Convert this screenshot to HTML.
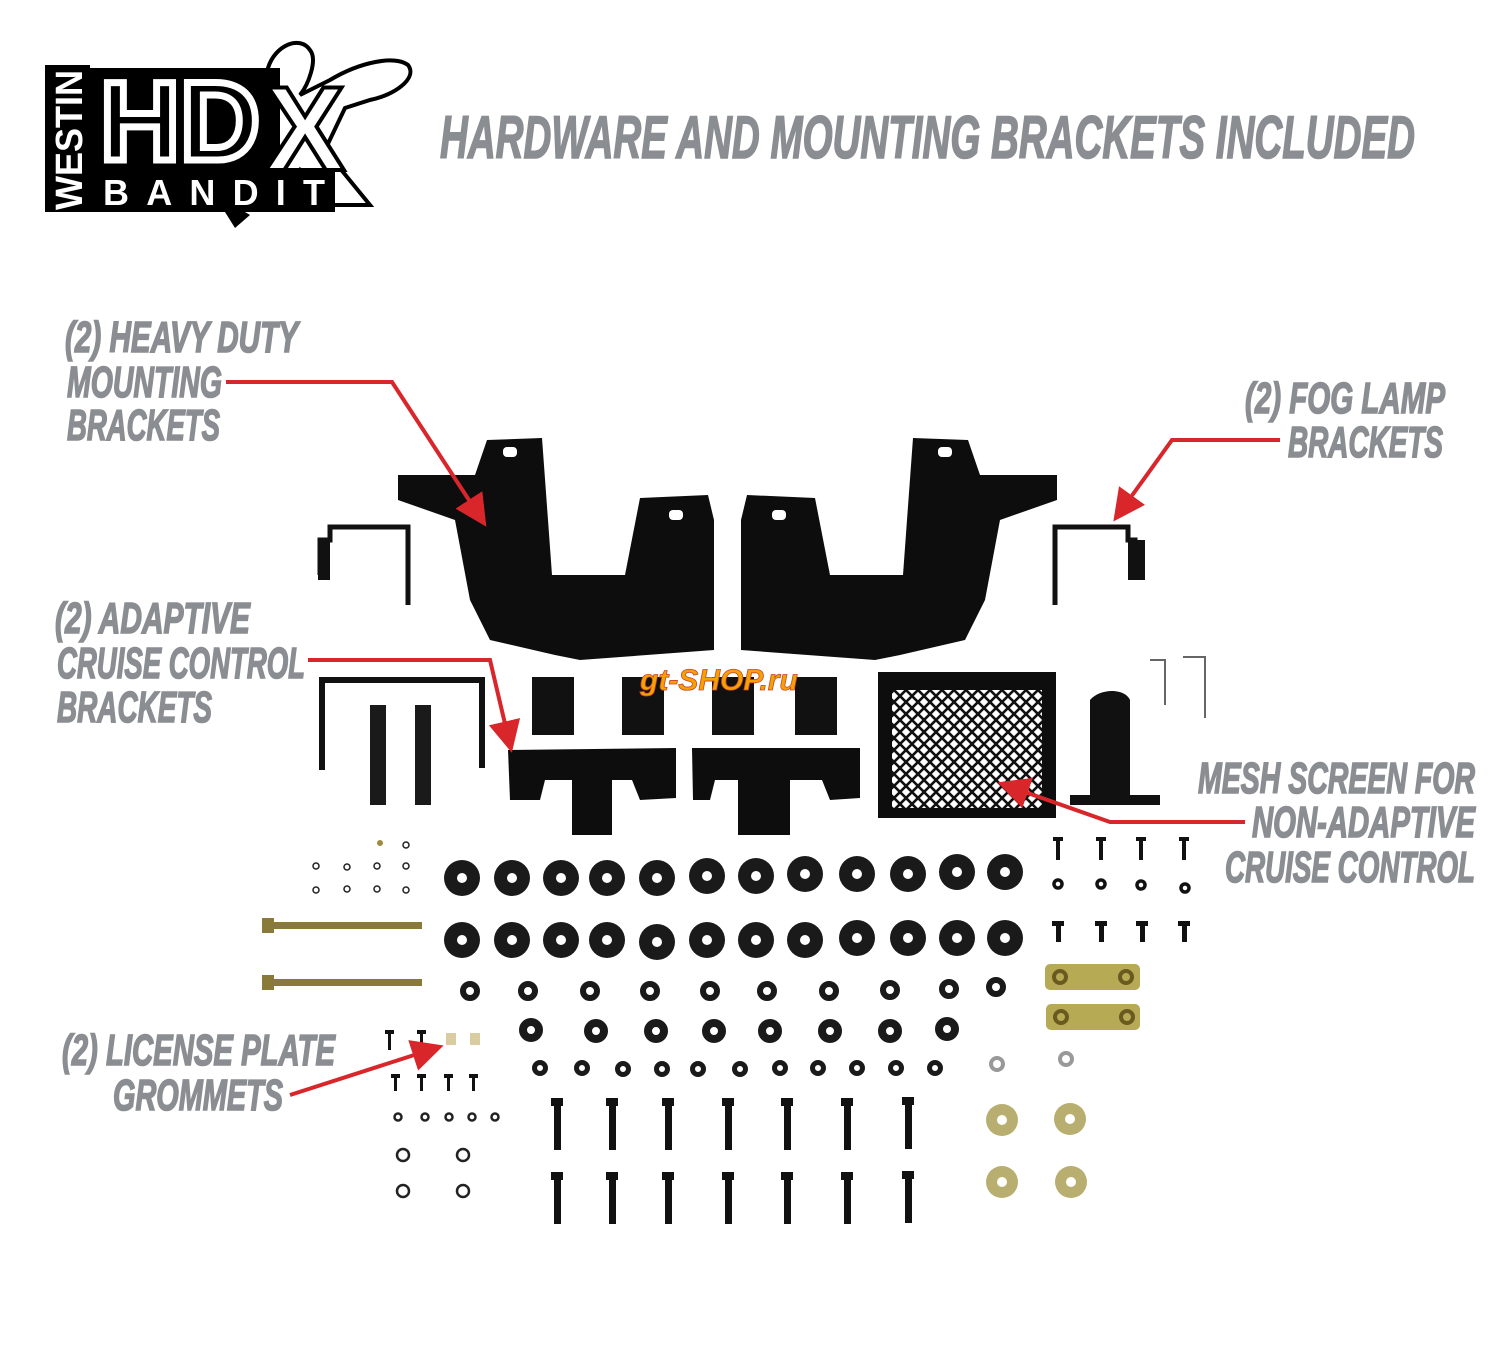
<!DOCTYPE html>
<html><head><meta charset="utf-8"><style>
html,body{margin:0;padding:0;background:#fff;}
svg{display:block;}
.lb{font-family:"Liberation Sans Narrow","Liberation Sans",sans-serif;font-weight:bold;font-style:italic;fill:#8a8d91;stroke:#8a8d91;stroke-width:1.6;}
</style></head><body>
<svg width="1500" height="1350" viewBox="0 0 1500 1350" xmlns="http://www.w3.org/2000/svg">
<defs>
<marker id="ah" markerWidth="8" markerHeight="8" refX="6" refY="4" orient="auto" markerUnits="strokeWidth">
<path d="M0,0 L8,4 L0,8 Z" fill="#d8262b"/></marker>
<pattern id="mesh" width="12" height="12" patternUnits="userSpaceOnUse">
<rect width="12" height="12" fill="#fff"/>
<path d="M0,0 L12,12 M12,0 L0,12" stroke="#111" stroke-width="2.6"/></pattern>
</defs>

<!-- Logo -->
<path d="M268,68 C275,45 300,35 310,50 C318,60 308,85 300,95 L330,80 C360,62 395,55 408,65 C418,78 395,95 370,100 L345,108 L325,150 L370,205 L330,205 L300,170 L275,205 L230,205 L268,140 Z" fill="#fff" stroke="#000" stroke-width="4"/>
<rect x="45" y="65" width="45" height="147" fill="#000"/>
<rect x="90" y="68" width="190" height="106" fill="#000"/>
<rect x="90" y="168" width="245" height="44" fill="#000"/>
<text transform="translate(82,210) rotate(-90)" font-family="Liberation Sans" font-weight="bold" font-size="38" fill="#fff" textLength="140" lengthAdjust="spacingAndGlyphs">WESTIN</text>
<text x="100" y="160" font-family="Liberation Sans" font-weight="bold" font-size="112" fill="#000" stroke="#fff" stroke-width="7" textLength="160" lengthAdjust="spacingAndGlyphs">HD</text>
<text x="103" y="205" font-family="Liberation Sans" font-weight="bold" font-size="36" fill="#fff" textLength="222" lengthAdjust="spacing">BANDIT</text>
<text x="265" y="170" font-family="Liberation Sans" font-weight="bold" font-size="120" fill="#fff" stroke="#000" stroke-width="4">X</text>
<path d="M225,212 L235,228 L250,215 L245,212 Z" fill="#000"/>

<!-- Title -->
<text class="lb" x="440" y="158" font-size="60" textLength="975" lengthAdjust="spacingAndGlyphs" stroke-width="2">HARDWARE AND MOUNTING BRACKETS INCLUDED</text>

<!-- Labels -->
<g class="lb" font-size="44">
<text x="65" y="352" textLength="233" lengthAdjust="spacingAndGlyphs">(2) HEAVY DUTY</text>
<text x="67" y="397" textLength="155" lengthAdjust="spacingAndGlyphs">MOUNTING</text>
<text x="67" y="440" textLength="153" lengthAdjust="spacingAndGlyphs">BRACKETS</text>
<text x="1245" y="413" textLength="200" lengthAdjust="spacingAndGlyphs">(2) FOG LAMP</text>
<text x="1288" y="457" textLength="155" lengthAdjust="spacingAndGlyphs">BRACKETS</text>
<text x="55" y="633" textLength="195" lengthAdjust="spacingAndGlyphs">(2) ADAPTIVE</text>
<text x="57" y="678" textLength="248" lengthAdjust="spacingAndGlyphs">CRUISE CONTROL</text>
<text x="57" y="722" textLength="155" lengthAdjust="spacingAndGlyphs">BRACKETS</text>
<text x="1198" y="793" textLength="277" lengthAdjust="spacingAndGlyphs">MESH SCREEN FOR</text>
<text x="1252" y="837" textLength="223" lengthAdjust="spacingAndGlyphs">NON-ADAPTIVE</text>
<text x="1225" y="882" textLength="250" lengthAdjust="spacingAndGlyphs">CRUISE CONTROL</text>
<text x="62" y="1065" textLength="273" lengthAdjust="spacingAndGlyphs">(2) LICENSE PLATE</text>
<text x="113" y="1110" textLength="170" lengthAdjust="spacingAndGlyphs">GROMMETS</text>
</g>

<!-- Heavy duty brackets -->
<g fill="#0d0d0d">
<path d="M398,475 L475,475 L487,440 L542,438 L548,520 L552,575 L625,575 L640,498 L708,495 L714,520 L714,650 L580,660 L555,655 L490,640 L470,600 L455,520 L398,500 Z"/>
<path transform="translate(1455,0) scale(-1,1)" d="M398,475 L475,475 L487,440 L542,438 L548,520 L552,575 L625,575 L640,498 L708,495 L714,520 L714,650 L580,660 L555,655 L490,640 L470,600 L455,520 L398,500 Z"/>
</g>
<g fill="#fff">
<rect x="503" y="447" width="14" height="10" rx="4"/><rect x="669" y="510" width="14" height="10" rx="4"/>
<rect x="938" y="447" width="14" height="10" rx="4"/><rect x="772" y="510" width="14" height="10" rx="4"/>
</g>
<!-- Fog brackets -->
<g fill="none" stroke="#111" stroke-width="5">
<path d="M320,575 L320,540 L330,540 L330,527 L408,527 L408,605"/>
<path d="M1135,575 L1135,540 L1128,540 L1128,527 L1055,527 L1055,605"/>
</g>
<path d="M318,540 L330,540 L330,580 L318,580Z M1128,540 L1145,540 L1145,580 L1128,580Z" fill="#111"/>

<!-- ACC left parts -->
<g fill="none" stroke="#111" stroke-width="6">
<path d="M322,770 L322,680 L482,680 L482,768"/>
</g>
<rect x="370" y="705" width="16" height="100" fill="#1a1a1a"/>
<rect x="415" y="705" width="16" height="100" fill="#1a1a1a"/>
<!-- small tabs -->
<g fill="#111">
<rect x="532" y="677" width="42" height="58"/><rect x="622" y="677" width="42" height="58"/>
<rect x="712" y="677" width="42" height="58"/><rect x="795" y="677" width="42" height="58"/>
</g>
<!-- ACC brackets -->
<g fill="#0d0d0d">
<path d="M508,750 L676,748 L676,798 L640,800 L632,780 L612,780 L612,835 L572,835 L572,780 L545,780 L540,800 L510,800 Z"/>
<path d="M692,748 L860,748 L860,798 L830,800 L822,780 L790,780 L790,835 L738,835 L738,780 L715,780 L710,800 L693,800 Z"/>
</g>
<!-- Mesh -->
<rect x="878" y="672" width="178" height="146" fill="#0d0d0d"/>
<rect x="892" y="690" width="150" height="118" fill="url(#mesh)"/>
<!-- angle bracket + allen keys -->
<path d="M1090,700 L1090,795 L1070,795 L1070,805 L1160,805 L1160,795 L1130,795 L1130,700 C1125,688 1100,688 1090,700Z" fill="#111"/>
<path d="M1150,660 L1165,660 L1165,705 M1183,657 L1205,657 L1205,718" fill="none" stroke="#666" stroke-width="2"/>

<!-- Watermark -->
<text x="640" y="690" font-family="Liberation Sans" font-weight="bold" font-style="italic" font-size="30" fill="#f5a100" stroke="#c43" stroke-width="0.8">gt-SHOP.ru</text>

<!-- Washers rows -->
<g fill="#1a1a1a">
<circle cx="462" cy="878" r="18"/><circle cx="512" cy="878" r="18"/><circle cx="561" cy="878" r="18"/><circle cx="607" cy="878" r="18"/><circle cx="657" cy="878" r="18"/><circle cx="707" cy="876" r="18"/><circle cx="756" cy="876" r="18"/><circle cx="805" cy="874" r="18"/><circle cx="857" cy="874" r="18"/><circle cx="908" cy="874" r="18"/><circle cx="957" cy="872" r="18"/><circle cx="1005" cy="872" r="18"/>
<circle cx="462" cy="940" r="18"/><circle cx="512" cy="940" r="18"/><circle cx="561" cy="940" r="18"/><circle cx="607" cy="940" r="18"/><circle cx="657" cy="942" r="18"/><circle cx="707" cy="940" r="18"/><circle cx="756" cy="940" r="18"/><circle cx="805" cy="940" r="18"/><circle cx="857" cy="938" r="18"/><circle cx="908" cy="938" r="18"/><circle cx="957" cy="938" r="18"/><circle cx="1005" cy="938" r="18"/>
</g>
<g fill="#fff">
<circle cx="462" cy="878" r="5"/><circle cx="512" cy="878" r="5"/><circle cx="561" cy="878" r="5"/><circle cx="607" cy="878" r="5"/><circle cx="657" cy="878" r="5"/><circle cx="707" cy="876" r="5"/><circle cx="756" cy="876" r="5"/><circle cx="805" cy="874" r="5"/><circle cx="857" cy="874" r="5"/><circle cx="908" cy="874" r="5"/><circle cx="957" cy="872" r="5"/><circle cx="1005" cy="872" r="5"/>
<circle cx="462" cy="940" r="5"/><circle cx="512" cy="940" r="5"/><circle cx="561" cy="940" r="5"/><circle cx="607" cy="940" r="5"/><circle cx="657" cy="942" r="5"/><circle cx="707" cy="940" r="5"/><circle cx="756" cy="940" r="5"/><circle cx="805" cy="940" r="5"/><circle cx="857" cy="938" r="5"/><circle cx="908" cy="938" r="5"/><circle cx="957" cy="938" r="5"/><circle cx="1005" cy="938" r="5"/>
</g>
<!-- nuts row -->
<g fill="none" stroke="#1a1a1a" stroke-width="6">
<circle cx="470" cy="991" r="7"/><circle cx="528" cy="991" r="7"/><circle cx="590" cy="991" r="7"/><circle cx="650" cy="991" r="7"/><circle cx="710" cy="991" r="7"/><circle cx="767" cy="991" r="7"/><circle cx="829" cy="991" r="7"/><circle cx="890" cy="990" r="7"/><circle cx="949" cy="989" r="7"/><circle cx="996" cy="987" r="7"/>
</g>
<g fill="none" stroke="#1a1a1a" stroke-width="8">
<circle cx="531" cy="1030" r="8"/><circle cx="596" cy="1031" r="8"/><circle cx="656" cy="1031" r="8"/><circle cx="714" cy="1031" r="8"/><circle cx="770" cy="1031" r="8"/><circle cx="830" cy="1031" r="8"/><circle cx="890" cy="1031" r="8"/><circle cx="947" cy="1029" r="8"/>
</g>
<g fill="none" stroke="#1a1a1a" stroke-width="5">
<circle cx="540" cy="1068" r="5.5"/><circle cx="582" cy="1068" r="5.5"/><circle cx="623" cy="1069" r="5.5"/><circle cx="662" cy="1069" r="5.5"/><circle cx="698" cy="1069" r="5.5"/><circle cx="740" cy="1069" r="5.5"/><circle cx="780" cy="1068" r="5.5"/><circle cx="818" cy="1068" r="5.5"/><circle cx="857" cy="1068" r="5.5"/><circle cx="896" cy="1068" r="5.5"/><circle cx="935" cy="1068" r="5.5"/>
</g>
<!-- big bolts -->
<g fill="#111">
<rect x="551" y="1098" width="12" height="8"/><rect x="554" y="1104" width="7" height="46"/>
<rect x="606" y="1098" width="12" height="8"/><rect x="609" y="1104" width="7" height="46"/>
<rect x="662" y="1098" width="12" height="8"/><rect x="665" y="1104" width="7" height="46"/>
<rect x="722" y="1098" width="12" height="8"/><rect x="725" y="1104" width="7" height="46"/>
<rect x="781" y="1098" width="12" height="8"/><rect x="784" y="1104" width="7" height="46"/>
<rect x="841" y="1098" width="12" height="8"/><rect x="844" y="1104" width="7" height="46"/>
<rect x="902" y="1097" width="12" height="8"/><rect x="905" y="1103" width="7" height="46"/>
<rect x="551" y="1172" width="12" height="8"/><rect x="554" y="1178" width="7" height="46"/>
<rect x="606" y="1172" width="12" height="8"/><rect x="609" y="1178" width="7" height="46"/>
<rect x="662" y="1172" width="12" height="8"/><rect x="665" y="1178" width="7" height="46"/>
<rect x="722" y="1172" width="12" height="8"/><rect x="725" y="1178" width="7" height="46"/>
<rect x="781" y="1172" width="12" height="8"/><rect x="784" y="1178" width="7" height="46"/>
<rect x="841" y="1172" width="12" height="8"/><rect x="844" y="1178" width="7" height="46"/>
<rect x="902" y="1171" width="12" height="8"/><rect x="905" y="1177" width="7" height="46"/>
</g>
<!-- left small hardware -->
<circle cx="380" cy="843" r="3" fill="#a08a40"/>
<g fill="none" stroke="#222" stroke-width="1.5">
<circle cx="406" cy="845" r="3"/><circle cx="316" cy="866" r="3"/><circle cx="347" cy="867" r="3"/><circle cx="377" cy="866" r="3"/><circle cx="406" cy="866" r="3"/>
<circle cx="316" cy="890" r="3"/><circle cx="347" cy="889" r="3"/><circle cx="377" cy="889" r="3"/><circle cx="406" cy="890" r="3"/>
</g>
<g fill="none" stroke="#222" stroke-width="2.5">
<circle cx="398" cy="1117" r="3.5"/><circle cx="425" cy="1117" r="3.5"/><circle cx="449" cy="1117" r="3.5"/><circle cx="472" cy="1117" r="3.5"/><circle cx="495" cy="1117" r="3.5"/>
<circle cx="403" cy="1155" r="6"/><circle cx="463" cy="1155" r="6"/><circle cx="403" cy="1191" r="6"/><circle cx="463" cy="1191" r="6"/>
</g>
<!-- long bolts -->
<rect x="262" y="922" width="160" height="7" fill="#8a7a3a"/><rect x="262" y="918" width="12" height="15" fill="#8a7a3a"/>
<rect x="262" y="979" width="160" height="7" fill="#8a7a3a"/><rect x="262" y="975" width="12" height="15" fill="#8a7a3a"/>
<!-- small screws -->
<g fill="#111">
<rect x="388" y="1030" width="3" height="20"/><rect x="385" y="1030" width="9" height="4"/>
<rect x="420" y="1030" width="3" height="20"/><rect x="417" y="1030" width="9" height="4"/>
<rect x="394" y="1075" width="3" height="16"/><rect x="391" y="1074" width="9" height="4"/>
<rect x="420" y="1075" width="3" height="16"/><rect x="417" y="1074" width="9" height="4"/>
<rect x="447" y="1075" width="3" height="16"/><rect x="444" y="1074" width="9" height="4"/>
<rect x="472" y="1075" width="3" height="16"/><rect x="469" y="1074" width="9" height="4"/>
</g>
<rect x="446" y="1033" width="10" height="12" fill="#d8cca0"/><rect x="470" y="1033" width="10" height="12" fill="#d8cca0"/>
<!-- right hardware -->
<g fill="#111">
<rect x="1056" y="838" width="4" height="22"/><rect x="1053" y="837" width="10" height="4"/>
<rect x="1099" y="838" width="4" height="22"/><rect x="1096" y="837" width="10" height="4"/>
<rect x="1139" y="838" width="4" height="22"/><rect x="1136" y="837" width="10" height="4"/>
<rect x="1182" y="838" width="4" height="22"/><rect x="1179" y="837" width="10" height="4"/>
<rect x="1056" y="924" width="5" height="18"/><rect x="1052" y="921" width="12" height="5"/>
<rect x="1099" y="924" width="5" height="18"/><rect x="1095" y="921" width="12" height="5"/>
<rect x="1140" y="924" width="5" height="18"/><rect x="1136" y="921" width="12" height="5"/>
<rect x="1182" y="924" width="5" height="18"/><rect x="1178" y="921" width="12" height="5"/>
</g>
<g fill="none" stroke="#111" stroke-width="3.5">
<circle cx="1058" cy="884" r="4"/><circle cx="1101" cy="884" r="4"/><circle cx="1141" cy="885" r="4"/><circle cx="1185" cy="888" r="4"/>
</g>
<rect x="1045" y="964" width="95" height="26" rx="5" fill="#b6aa55"/>
<rect x="1046" y="1004" width="94" height="26" rx="5" fill="#b6aa55"/>
<g fill="none" stroke="#6a5a20" stroke-width="4">
<circle cx="1060" cy="977" r="6"/><circle cx="1126" cy="977" r="6"/><circle cx="1061" cy="1017" r="6"/><circle cx="1127" cy="1017" r="6"/>
</g>
<g fill="none" stroke="#999" stroke-width="4"><circle cx="997" cy="1064" r="6"/><circle cx="1066" cy="1059" r="6"/></g>
<g fill="#b8ae70"><circle cx="1002" cy="1120" r="16"/><circle cx="1070" cy="1119" r="16"/><circle cx="1002" cy="1182" r="16"/><circle cx="1071" cy="1182" r="16"/></g>
<g fill="#fff"><circle cx="1002" cy="1120" r="5"/><circle cx="1070" cy="1119" r="5"/><circle cx="1002" cy="1182" r="5"/><circle cx="1071" cy="1182" r="5"/></g>

<!-- Red arrows -->
<g fill="none" stroke="#d8262b" stroke-width="4">
<path d="M226,382 L392,382 L482,520" marker-end="url(#ah)"/>
<path d="M1280,440 L1172,440 L1118,515" marker-end="url(#ah)"/>
<path d="M308,660 L490,660 L510,745" marker-end="url(#ah)"/>
<path d="M1245,822 L1110,822 L1005,785" marker-end="url(#ah)"/>
<path d="M290,1095 L436,1048" marker-end="url(#ah)"/>
</g>
</svg>
</body></html>
